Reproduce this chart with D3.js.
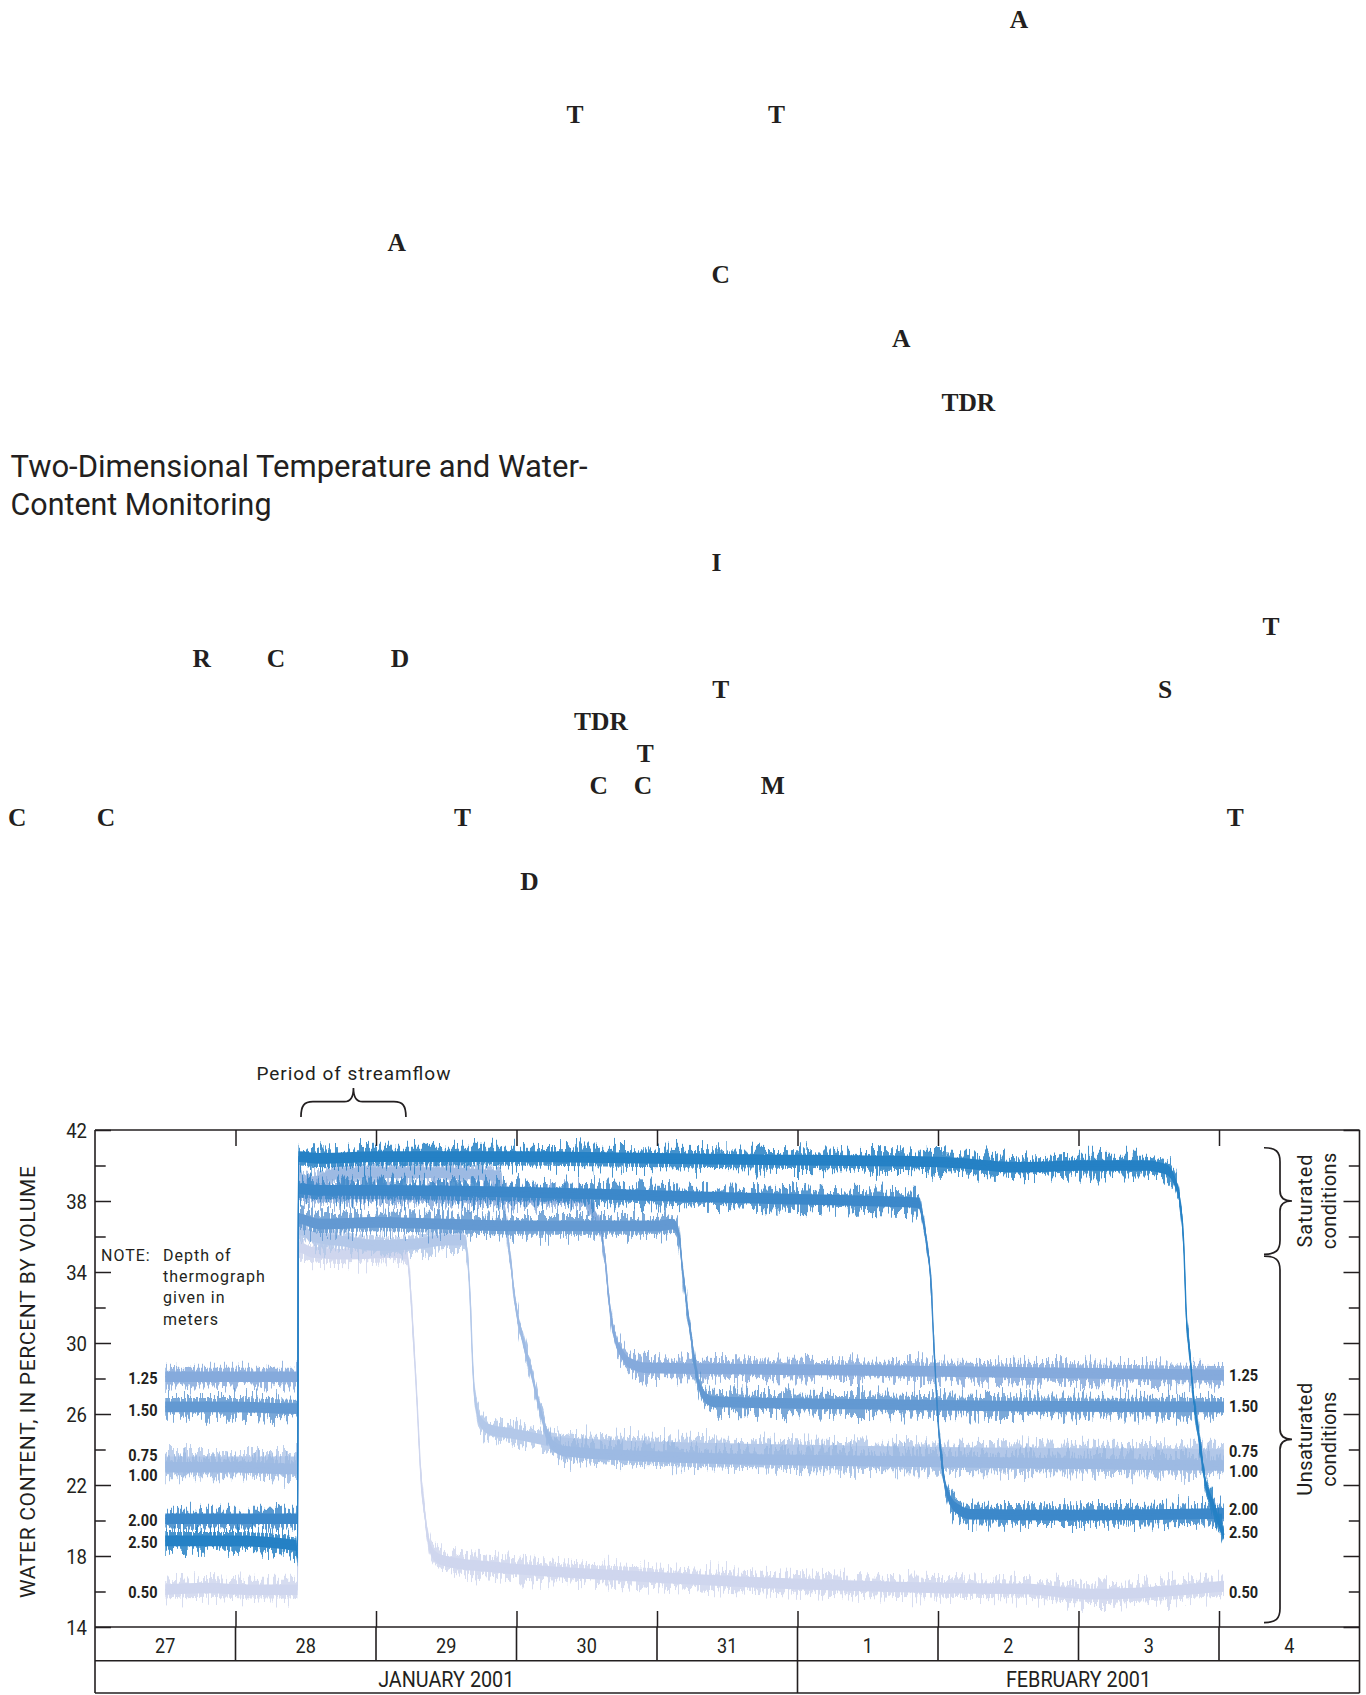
<!DOCTYPE html>
<html>
<head>
<meta charset="utf-8">
<script src="https://cdn.jsdelivr.net/npm/d3@7"></script>
<style>
  html, body { margin: 0; padding: 0; background: #fff; }
  svg { display: block; }
</style>
</head>
<body>
<svg id="page" width="1366" height="1695"></svg>
<script>
// ---------------------------------------------------------------------------
// Data: volumetric water content (percent) under the channel, by thermograph
// depth (m). Times are days after 2001-01-27 00:00.
// ---------------------------------------------------------------------------
const depths = ["0.50", "0.75", "1.00", "1.25", "1.50", "2.00", "2.50"];
const depthColors = ["#cfd6ee", "#b3c8e9", "#9dbae3", "#85aadc", "#6399d2", "#3c88ca", "#2581c5"];

const depth050 = [[0.5,16.1],[0.8,16.2],[1.1,16.1],[1.442,16.1],[1.448,35.4],[1.55,35.1],[1.8,35.0],[2.1,35.1],[2.22,35.0],[2.245,33.0],[2.265,30.5],[2.29,27.0],[2.32,22.5],[2.35,20.2],[2.38,18.6],[2.42,18.0],[2.5,17.7],[2.8,17.4],[3.3,17.1],[4.0,16.8],[4.6,16.55],[5.3,16.35],[6.0,16.2],[6.6,16.15],[7.1,15.85],[7.5,15.95],[8.035,16.3]];
const depth075 = [[0.5,23.3],[1.0,23.3],[1.442,23.3],[1.448,36.4],[1.55,36.0],[1.8,35.7],[2.0,35.5],[2.3,35.6],[2.5,35.8],[2.63,35.8],[2.65,35.0],[2.67,32.5],[2.69,28.5],[2.715,26.3],[2.75,25.5],[2.82,25.1],[2.97,24.9],[3.3,24.4],[3.8,24.2],[4.5,24.05],[5.5,23.9],[6.5,23.8],[7.5,23.75],[8.035,23.7]];
const depth100 = [[0.5,23.0],[1.0,23.0],[1.442,22.9],[1.448,39.8],[1.48,39.2],[1.56,39.1],[1.7,39.5],[2.0,39.6],[2.4,39.6],[2.88,39.4],[2.9,38.5],[2.93,36.5],[2.96,34.5],[2.99,32.3],[3.03,30.7],[3.07,29.4],[3.11,28.2],[3.15,26.8],[3.19,25.6],[3.23,24.6],[3.28,24.1],[3.35,23.9],[4.0,23.6],[5.0,23.4],[6.0,23.3],[7.0,23.2],[8.035,23.1]];
const depth125 = [[0.5,28.1],[1.0,28.1],[1.442,28.1],[1.448,38.5],[1.6,38.4],[2.0,38.4],[2.5,38.3],[3.0,38.25],[3.47,38.2],[3.5,38.0],[3.55,37.3],[3.6,36.3],[3.63,34.8],[3.66,32.3],[3.69,30.7],[3.75,29.4],[3.8,28.9],[3.93,28.6],[4.3,28.55],[5.0,28.5],[6.0,28.4],[7.0,28.3],[8.035,28.2]];
const depth150 = [[0.5,26.4],[1.0,26.4],[1.442,26.3],[1.448,37.0],[1.6,36.7],[2.0,36.8],[2.5,36.7],[3.0,36.6],[3.5,36.6],[4.0,36.6],[4.11,36.7],[4.15,36.3],[4.185,33.9],[4.23,31.1],[4.28,28.3],[4.32,27.2],[4.40,26.7],[4.6,26.65],[5.5,26.55],[6.5,26.45],[8.035,26.4]];
const depth200 = [[0.5,20.1],[1.0,20.1],[1.442,20.1],[1.448,38.7],[1.6,38.6],[2.0,38.6],[3.0,38.5],[4.0,38.3],[4.5,38.2],[5.0,38.1],[5.5,38.0],[5.86,37.9],[5.89,37.1],[5.92,35.6],[5.95,33.4],[5.97,30.0],[5.99,27.0],[6.01,24.6],[6.04,22.5],[6.09,21.1],[6.15,20.6],[6.24,20.35],[7.0,20.3],[8.035,20.4]];
const depth250 = [[0.5,18.85],[1.0,18.85],[1.43,18.6],[1.442,17.9],[1.448,40.5],[1.6,40.4],[2.0,40.5],[3.0,40.5],[4.0,40.4],[5.0,40.3],[6.0,40.2],[6.6,39.9],[7.0,40.0],[7.5,40.0],[7.57,39.9],[7.63,39.75],[7.69,39.0],[7.72,38.1],[7.75,35.4],[7.765,32.0],[7.795,29.2],[7.81,27.7],[7.854,24.9],[7.90,22.3],[7.96,20.8],[8.02,19.5],[8.035,19.2]];
const depthSeries = [depth050, depth075, depth100, depth125, depth150, depth200, depth250];

// Where each depth label sits (water content, percent) at the left and right ends
const leftLabelAt  = [15.97, 23.68, 22.57, 28.03, 26.2, 20.03, 18.76];
const rightLabelAt = [15.97, 23.9, 22.79, 28.17, 26.42, 20.65, 19.32];

// Axes
const yMajorTicks = [14, 18, 22, 26, 30, 34, 38, 42];
const yMinorTicks = [16, 20, 24, 28, 32, 36, 40];
const dayLabels = ["27", "28", "29", "30", "31", "1", "2", "3", "4"];
const monthLabels = ["JANUARY 2001", "FEBRUARY 2001"];
const monthBounds = [[0, 5], [5, 9]];          // days after 2001-01-27
const streamflowPeriod = [1.466, 2.213];       // days after 2001-01-27
const saturatedRange = [35, 41];
const unsaturatedRange = [14.25, 34.9];
const noteLines = ["Depth of", "thermograph", "given in", "meters"];

// Page header text around the figure
const titleLines = ["Two-Dimensional Temperature and Water-", "Content Monitoring"];
const pageInitials = [
  {t: "A", x: 1019, row: 0},
  {t: "T", x: 575, row: 3}, {t: "T", x: 776.5, row: 3},
  {t: "A", x: 396.6, row: 7},
  {t: "C", x: 720.8, row: 8},
  {t: "A", x: 901.3, row: 10},
  {t: "TDR", x: 968.3, row: 12},
  {t: "I", x: 716.5, row: 17},
  {t: "T", x: 1270.9, row: 19},
  {t: "R", x: 201.7, row: 20}, {t: "C", x: 276, row: 20}, {t: "D", x: 400, row: 20},
  {t: "T", x: 720.8, row: 21}, {t: "S", x: 1165, row: 21},
  {t: "TDR", x: 600.9, row: 22},
  {t: "T", x: 645.2, row: 23},
  {t: "C", x: 598.7, row: 24}, {t: "C", x: 643, row: 24}, {t: "M", x: 772.7, row: 24},
  {t: "C", x: 17.3, row: 25}, {t: "C", x: 105.9, row: 25}, {t: "T", x: 462.5, row: 25}, {t: "T", x: 1235.2, row: 25},
  {t: "D", x: 529.5, row: 27}
];

// ---------------------------------------------------------------------------
const INK = "#231f20";
const SANS = "Roboto, 'Liberation Sans', sans-serif";
const DAY = 86400000;
const t0 = Date.UTC(2001, 0, 27);
const toDate = d => new Date(t0 + d * DAY);

const svg = d3.select("#page");
const defs = svg.append("defs");

function squeeze(sel, k) {
  sel.each(function () {
    const n = this.getComputedTextLength();
    d3.select(this).attr("textLength", n * k).attr("lengthAdjust", "spacingAndGlyphs");
  });
}

// ---- page header --------------------------------------------------------
const rowY = r => 27.5 + r * 31.95;
svg.append("g").selectAll("text").data(pageInitials).join("text")
  .attr("x", d => d.x).attr("y", d => rowY(d.row))
  .attr("text-anchor", "middle")
  .attr("font-family", "'Liberation Serif', 'DejaVu Serif', serif")
  .attr("font-weight", 700).attr("font-size", 25.5).attr("fill", INK)
  .text(d => d.t);

const title = svg.append("g").attr("font-family", SANS).attr("font-weight", 400)
  .attr("font-size", 30.5).attr("fill", INK);
title.append("text").attr("x", 10.5).attr("y", 476.7).text(titleLines[0])
  .attr("textLength", 577).attr("lengthAdjust", "spacingAndGlyphs");
title.append("text").attr("x", 10.5).attr("y", 515).text(titleLines[1])
  .attr("textLength", 261).attr("lengthAdjust", "spacingAndGlyphs");

// ---- chart scales ---------------------------------------------------------
const plotL = 95, plotR = 1359.5, plotT = 1130, plotB = 1627;
const x = d3.scaleUtc().domain([toDate(0), toDate(9)]).range([plotL, plotR]);
const y = d3.scaleLinear().domain([14, 42]).range([plotB, plotT]);

// ---- water-content bands ------------------------------------------------
// Each record is drawn as a solid core band plus a grainy outer fringe.
const chart = svg.append("g");
const core = 0.3, outer = 0.5;

depthSeries.forEach((series, i) => {
  const fid = "grain" + i;
  const f = defs.append("filter").attr("id", fid)
    .attr("filterUnits", "userSpaceOnUse")
    .attr("x", plotL).attr("y", plotT).attr("width", plotR - plotL).attr("height", plotB - plotT)
    .attr("color-interpolation-filters", "sRGB");
  f.append("feTurbulence").attr("type", "fractalNoise")
    .attr("baseFrequency", "0.5 0.03").attr("numOctaves", 2).attr("seed", 11 + i * 7)
    .attr("result", "noise");
  f.append("feColorMatrix").attr("in", "noise").attr("type", "matrix")
    .attr("values", "0 0 0 0 0.5  0 1.6 0 0 -0.3  0 0 1 0 0  0 0 0 0 1")
    .attr("result", "shift");
  f.append("feDisplacementMap").attr("in", "SourceGraphic").attr("in2", "shift")
    .attr("scale", 22).attr("xChannelSelector", "R").attr("yChannelSelector", "G");

  const pts = series.map(([d, v]) => ({date: toDate(d), v}));
  const band = w => d3.area()
    .x(p => x(p.date)).y0(p => y(p.v - w)).y1(p => y(p.v + w))
    .curve(d3.curveMonotoneX)(pts);
  const g = chart.append("g");
  g.append("path").attr("d", band(outer)).attr("fill", depthColors[i])
    .attr("opacity", 0.85).attr("filter", `url(#${fid})`);
  g.append("path").attr("d", band(core)).attr("fill", depthColors[i]);
  g.append("path")
    .attr("d", d3.line().x(p => x(p.date)).y(p => y(p.v)).curve(d3.curveMonotoneX)(pts))
    .attr("fill", "none").attr("stroke", depthColors[i]).attr("stroke-width", 1.4);
});

// ---- depth labels ---------------------------------------------------------
const lab = svg.append("g").attr("font-family", SANS).attr("font-weight", 700)
  .attr("font-size", 16.5).attr("fill", INK);
lab.selectAll("text.l").data(depths).join("text").attr("class", "l")
  .attr("x", 157.5).attr("y", (d, i) => y(leftLabelAt[i]) + 5.9)
  .attr("text-anchor", "end").text(d => d).call(squeeze, 0.88);
lab.selectAll("text.r").data(depths).join("text").attr("class", "r")
  .attr("x", 1229).attr("y", (d, i) => y(rightLabelAt[i]) + 5.9)
  .attr("text-anchor", "start").text(d => d).call(squeeze, 0.88);

// ---- axes ---------------------------------------------------------------
const axisStyle = g => {
  g.select(".domain").remove();
  g.selectAll("line").attr("stroke", INK).attr("stroke-width", 1.5);
  g.selectAll("text").attr("fill", INK).attr("font-family", SANS);
};
const dayTicks = d3.range(1, 9).map(toDate);

svg.append("g").attr("transform", `translate(${plotL},0)`)
  .call(d3.axisLeft(y).tickValues(yMajorTicks).tickSize(-16).tickPadding(8))
  .call(axisStyle)
  .call(g => g.selectAll("text").attr("font-size", 19.5).attr("dy", "0.36em").call(squeeze, 0.95));
svg.append("g").attr("transform", `translate(${plotL},0)`)
  .call(d3.axisLeft(y).tickValues(yMinorTicks).tickSize(-10.7).tickFormat(""))
  .call(axisStyle);
svg.append("g").attr("transform", `translate(${plotR},0)`)
  .call(d3.axisRight(y).tickValues(yMajorTicks).tickSize(-16).tickFormat(""))
  .call(axisStyle);
svg.append("g").attr("transform", `translate(${plotR},0)`)
  .call(d3.axisRight(y).tickValues(yMinorTicks).tickSize(-10.7).tickFormat(""))
  .call(axisStyle);
svg.append("g").attr("transform", `translate(0,${plotT})`)
  .call(d3.axisTop(x).tickValues(dayTicks).tickSize(-16).tickFormat(""))
  .call(axisStyle);
svg.append("g").attr("transform", `translate(0,${plotB})`)
  .call(d3.axisBottom(x).tickValues(dayTicks).tickSize(-16).tickFormat(""))
  .call(axisStyle);

// ---- frame and date table ----------------------------------------------
const rowDay = 1660.7, rowEnd = 1693;
const frame = svg.append("g").attr("stroke", INK).attr("stroke-width", 1.6).attr("fill", "none");
frame.append("line").attr("x1", plotL).attr("x2", plotR).attr("y1", plotT).attr("y2", plotT);
frame.append("line").attr("x1", plotL).attr("x2", plotR).attr("y1", plotB).attr("y2", plotB);
frame.append("line").attr("x1", plotL).attr("x2", plotR).attr("y1", rowDay).attr("y2", rowDay);
frame.append("line").attr("x1", plotL).attr("x2", plotR).attr("y1", rowEnd).attr("y2", rowEnd);
frame.append("line").attr("x1", plotL).attr("x2", plotL).attr("y1", plotT).attr("y2", rowEnd);
frame.append("line").attr("x1", plotR).attr("x2", plotR).attr("y1", plotT).attr("y2", rowEnd);
frame.selectAll("line.day").data(dayTicks).join("line").attr("class", "day")
  .attr("x1", d => x(d)).attr("x2", d => x(d)).attr("y1", plotB).attr("y2", rowDay);
frame.append("line").attr("x1", x(toDate(monthBounds[1][0]))).attr("x2", x(toDate(monthBounds[1][0])))
  .attr("y1", rowDay).attr("y2", rowEnd);

const table = svg.append("g").attr("font-family", SANS).attr("fill", INK).attr("text-anchor", "middle");
table.selectAll("text.day").data(dayLabels).join("text").attr("class", "day")
  .attr("x", (d, i) => (x(toDate(i)) + x(toDate(i + 1))) / 2)
  .attr("y", 1652.7).attr("font-size", 21).text(d => d).call(squeeze, 0.86);
table.selectAll("text.month").data(monthLabels).join("text").attr("class", "month")
  .attr("x", (d, i) => (x(toDate(monthBounds[i][0])) + x(toDate(monthBounds[i][1]))) / 2)
  .attr("y", 1686.7).attr("font-size", 21.5).text(d => d).call(squeeze, 0.92);

// ---- annotations --------------------------------------------------------
const note = svg.append("g").attr("font-family", SANS).attr("font-size", 16)
  .attr("letter-spacing", 1).attr("fill", INK);
note.append("text").attr("x", 101).attr("y", 1261).text("NOTE:");
note.selectAll("text.n").data(noteLines).join("text").attr("class", "n")
  .attr("x", 163).attr("y", (d, i) => 1261 + i * 21.2).text(d => d);

svg.append("text")
  .attr("transform", `translate(35,${(y(14.2) + y(41.4)) / 2}) rotate(-90)`)
  .attr("text-anchor", "middle").attr("font-family", SANS).attr("font-size", 21)
  .attr("fill", INK).attr("textLength", 432).attr("lengthAdjust", "spacing")
  .text("WATER CONTENT, IN PERCENT BY VOLUME");

// streamflow brace
const sx0 = x(toDate(streamflowPeriod[0])), sx1 = x(toDate(streamflowPeriod[1]));
const sxm = (sx0 + sx1) / 2, yEnd = 1117, yFlat = 1101.7, yTip = 1088;
svg.append("path")
  .attr("d", `M${sx0},${yEnd} C${sx0},${yFlat + 4} ${sx0 + 3},${yFlat} ${sx0 + 12},${yFlat}
              L${sxm - 9},${yFlat} C${sxm - 3},${yFlat} ${sxm},${yFlat - 4} ${sxm},${yTip}
              C${sxm},${yFlat - 4} ${sxm + 3},${yFlat} ${sxm + 9},${yFlat}
              L${sx1 - 12},${yFlat} C${sx1 - 3},${yFlat} ${sx1},${yFlat + 4} ${sx1},${yEnd}`)
  .attr("fill", "none").attr("stroke", INK).attr("stroke-width", 1.7);
svg.append("text").attr("x", sxm).attr("y", 1080).attr("text-anchor", "middle")
  .attr("font-family", SANS).attr("font-size", 19).attr("fill", INK)
  .attr("textLength", 194).attr("lengthAdjust", "spacing")
  .text("Period of streamflow");

// right-hand braces for saturated / unsaturated conditions
function vBrace(v0, v1) {
  const ya = y(v1), yb = y(v0), ym = (ya + yb) / 2;
  const xe = 1264, xb = 1280, xt = 1292;
  return `M${xe},${ya} C${xb - 4},${ya} ${xb},${ya + 4} ${xb},${ya + 14}
          L${xb},${ym - 10} C${xb},${ym - 3} ${xb + 4},${ym} ${xt},${ym}
          C${xb + 4},${ym} ${xb},${ym + 3} ${xb},${ym + 10}
          L${xb},${yb - 14} C${xb},${yb - 4} ${xb - 4},${yb} ${xe},${yb}`;
}
svg.append("path").attr("d", vBrace(...saturatedRange))
  .attr("fill", "none").attr("stroke", INK).attr("stroke-width", 1.7);
svg.append("path").attr("d", vBrace(...unsaturatedRange))
  .attr("fill", "none").attr("stroke", INK).attr("stroke-width", 1.7);

const cond = svg.append("g").attr("font-family", SANS).attr("font-size", 20)
  .attr("fill", INK).attr("text-anchor", "middle");
const condText = (txt, bx, v0, v1, len) => cond.append("text")
  .attr("transform", `translate(${bx},${(y(v0) + y(v1)) / 2}) rotate(-90)`)
  .attr("textLength", len).attr("lengthAdjust", "spacing").text(txt);
condText("Saturated", 1311.7, saturatedRange[0], saturatedRange[1], 93);
condText("conditions", 1336, saturatedRange[0], saturatedRange[1], 96.7);
condText("Unsaturated", 1311.7, unsaturatedRange[0], unsaturatedRange[1], 113);
condText("conditions", 1336, unsaturatedRange[0], unsaturatedRange[1], 95);
</script>
</body>
</html>
